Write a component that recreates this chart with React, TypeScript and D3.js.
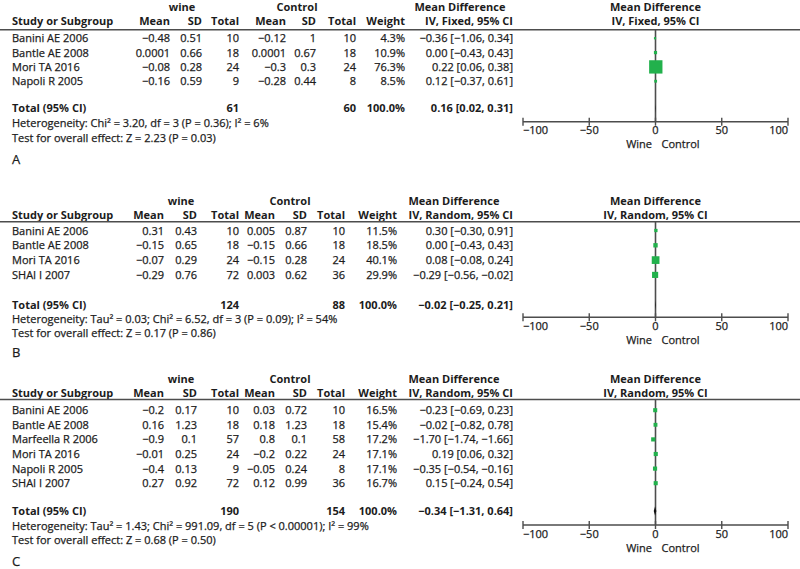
import React from "react";
import * as d3 from "d3";

// ---------- DATA ----------
const panelLetters = ["A", "B", "C"];
const methodLabels = ["IV, Fixed, 95% CI", "IV, Random, 95% CI", "IV, Random, 95% CI"];

const studiesA = ["Banini AE 2006", "Bantle AE 2008", "Mori TA 2016", "Napoli R 2005"];
const wineMeanA = [-0.48, 0.0001, -0.08, -0.16];
const wineSdA = [0.51, 0.66, 0.28, 0.59];
const wineNA = [10, 18, 24, 9];
const ctrlMeanA = [-0.12, 0.0001, -0.3, -0.28];
const ctrlSdA = [1, 0.67, 0.3, 0.44];
const ctrlNA = [10, 18, 24, 8];
const weightA = [4.3, 10.9, 76.3, 8.5];
const mdA = [-0.36, 0.0, 0.22, 0.12];
const loA = [-1.06, -0.43, 0.06, -0.37];
const hiA = [0.34, 0.43, 0.38, 0.61];

const studiesB = ["Banini AE 2006", "Bantle AE 2008", "Mori TA 2016", "SHAI I 2007"];
const wineMeanB = [0.31, -0.15, -0.07, -0.29];
const wineSdB = [0.43, 0.65, 0.29, 0.76];
const wineNB = [10, 18, 24, 72];
const ctrlMeanB = [0.005, -0.15, -0.15, 0.003];
const ctrlSdB = [0.87, 0.66, 0.28, 0.62];
const ctrlNB = [10, 18, 24, 36];
const weightB = [11.5, 18.5, 40.1, 29.9];
const mdB = [0.3, 0.0, 0.08, -0.29];
const loB = [-0.3, -0.43, -0.08, -0.56];
const hiB = [0.91, 0.43, 0.24, -0.02];

const studiesC = ["Banini AE 2006", "Bantle AE 2008", "Marfeella R 2006", "Mori TA 2016", "Napoli R 2005", "SHAI I 2007"];
const wineMeanC = [-0.2, 0.16, -0.9, -0.01, -0.4, 0.27];
const wineSdC = [0.17, 1.23, 0.1, 0.25, 0.13, 0.92];
const wineNC = [10, 18, 57, 24, 9, 72];
const ctrlMeanC = [0.03, 0.18, 0.8, -0.2, -0.05, 0.12];
const ctrlSdC = [0.72, 1.23, 0.1, 0.22, 0.24, 0.99];
const ctrlNC = [10, 18, 58, 24, 8, 36];
const weightC = [16.5, 15.4, 17.2, 17.1, 17.1, 16.7];
const mdC = [-0.23, -0.02, -1.7, 0.19, -0.35, 0.15];
const loC = [-0.69, -0.82, -1.74, 0.06, -0.54, -0.24];
const hiC = [0.23, 0.78, -1.66, 0.32, -0.16, 0.54];

const totalWine = [61, 124, 190];
const totalCtrl = [60, 88, 154];
const totalWeight = [100.0, 100.0, 100.0];
const totalMd = [0.16, -0.02, -0.34];
const totalLo = [0.02, -0.25, -1.31];
const totalHi = [0.31, 0.21, 0.64];

const heterogeneity = [
  "Heterogeneity: Chi² = 3.20, df = 3 (P = 0.36); I² = 6%",
  "Heterogeneity: Tau² = 0.03; Chi² = 6.52, df = 3 (P = 0.09); I² = 54%",
  "Heterogeneity: Tau² = 1.43; Chi² = 991.09, df = 5 (P < 0.00001); I² = 99%",
];
const overallTest = [
  "Test for overall effect: Z = 2.23 (P = 0.03)",
  "Test for overall effect: Z = 0.17 (P = 0.86)",
  "Test for overall effect: Z = 0.68 (P = 0.50)",
];

const axisTicks = [-100, -50, 0, 50, 100];
const favoursLeft = "Wine";
const favoursRight = "Control";

// ---------- LAYOUT ----------
const panels = [
  {
    studies: studiesA, wm: wineMeanA, ws: wineSdA, wn: wineNA, cm: ctrlMeanA, cs: ctrlSdA, cn: ctrlNA,
    w: weightA, md: mdA, lo: loA, hi: hiA,
    y: { grp: 10.7, hdr: 25.3, rule: 29.8, row0: 38.3, step: 14.3, total: 108.3, het: 123, test: 137.5, axis: 121.7, letter: 164 },
    c: { wMean: 170, wSd: 202, wN: 239, cMean: 286, cSd: 316, cN: 356, weight: 405, ci: 513, wine: 182, ctrl: 297, mdHdr: 460 },
  },
  {
    studies: studiesB, wm: wineMeanB, ws: wineSdB, wn: wineNB, cm: ctrlMeanB, cs: ctrlSdB, cn: ctrlNB,
    w: weightB, md: mdB, lo: loB, hi: hiB,
    y: { grp: 205, hdr: 218.7, rule: 221.7, row0: 230.5, step: 14.8, total: 305, het: 319.3, test: 333, axis: 317.3, letter: 357 },
    c: { wMean: 164, wSd: 197, wN: 239, cMean: 275, cSd: 307, cN: 345, weight: 397, ci: 513, wine: 181, ctrl: 290, mdHdr: 454 },
  },
  {
    studies: studiesC, wm: wineMeanC, ws: wineSdC, wn: wineNC, cm: ctrlMeanC, cs: ctrlSdC, cn: ctrlNC,
    w: weightC, md: mdC, lo: loC, hi: hiC,
    y: { grp: 383.3, hdr: 397, rule: 399.5, row0: 410.2, step: 14.6, total: 511, het: 525.7, test: 540, axis: 525, letter: 566 },
    c: { wMean: 164, wSd: 197, wN: 239, cMean: 275, cSd: 307, cN: 345, weight: 397, ci: 513, wine: 181, ctrl: 290, mdHdr: 454 },
  },
];

const FONT = "'Open Sans', 'DejaVu Sans', sans-serif";
const TEXT = "#1c1c1c";
const LINE = "#4d4d4d";
const GREEN = "#22b14c";

const minus = (s: string) => s.replace(/-/g, "−");
const fmt = (v: number) => minus(String(v));
const f2 = (v: number) => minus(v.toFixed(2));
const ciText = (m: number, l: number, h: number) => `${f2(m)} [${f2(l)}, ${f2(h)}]`;

const x = d3.scaleLinear().domain([-100, 100]).range([523, 788]);

function Panel({ p, i }: { p: any; i: number }) {
  const { y, c } = p;
  const base = (center: number) => center + 4;
  const bold = { fontWeight: 700, strokeWidth: 0 };
  const size = (w: number) => 1.5 + 0.155 * w;
  return (
    <g>
      {/* group headers */}
      <text x={c.wine} y={y.grp} textAnchor="middle" style={bold}>wine</text>
      <text x={c.ctrl} y={y.grp} textAnchor="middle" style={bold}>Control</text>
      <text x={c.mdHdr} y={y.grp} textAnchor="middle" style={bold}>Mean Difference</text>
      <text x={x(0)} y={y.grp} textAnchor="middle" style={bold}>Mean Difference</text>
      {/* column headers */}
      <text x={12} y={y.hdr} style={bold}>Study or Subgroup</text>
      <text x={c.wMean} y={y.hdr} textAnchor="end" style={bold}>Mean</text>
      <text x={c.wSd} y={y.hdr} textAnchor="end" style={bold}>SD</text>
      <text x={c.wN} y={y.hdr} textAnchor="end" style={bold}>Total</text>
      <text x={c.cMean} y={y.hdr} textAnchor="end" style={bold}>Mean</text>
      <text x={c.cSd} y={y.hdr} textAnchor="end" style={bold}>SD</text>
      <text x={c.cN} y={y.hdr} textAnchor="end" style={bold}>Total</text>
      <text x={c.weight} y={y.hdr} textAnchor="end" style={bold}>Weight</text>
      <text x={c.ci} y={y.hdr} textAnchor="end" style={bold}>{methodLabels[i]}</text>
      <text x={x(0)} y={y.hdr} textAnchor="middle" style={bold}>{methodLabels[i]}</text>
      <line x1={0} x2={800} y1={y.rule} y2={y.rule} stroke={LINE} strokeWidth={1.6} />
      {/* zero line */}
      <line x1={x(0)} x2={x(0)} y1={y.rule} y2={y.axis} stroke={LINE} strokeWidth={1.6} />
      {/* study rows */}
      {p.studies.map((s: string, k: number) => {
        const cy = y.row0 + k * y.step;
        const by = base(cy);
        const sz = size(p.w[k]);
        return (
          <g key={s}>
            <text x={12} y={by}>{s}</text>
            <text x={c.wMean} y={by} textAnchor="end">{fmt(p.wm[k])}</text>
            <text x={c.wSd} y={by} textAnchor="end">{fmt(p.ws[k])}</text>
            <text x={c.wN} y={by} textAnchor="end">{p.wn[k]}</text>
            <text x={c.cMean} y={by} textAnchor="end">{fmt(p.cm[k])}</text>
            <text x={c.cSd} y={by} textAnchor="end">{fmt(p.cs[k])}</text>
            <text x={c.cN} y={by} textAnchor="end">{p.cn[k]}</text>
            <text x={c.weight} y={by} textAnchor="end">{p.w[k].toFixed(1)}%</text>
            <text x={c.ci} y={by} textAnchor="end">{ciText(p.md[k], p.lo[k], p.hi[k])}</text>
            <line x1={x(p.lo[k])} x2={x(p.hi[k])} y1={cy} y2={cy} stroke="#000" strokeWidth={1} />
            <rect x={x(p.md[k]) - sz / 2} y={cy - sz / 2} width={sz} height={sz} fill={GREEN} stroke="none" />
          </g>
        );
      })}
      {/* total row */}
      <text x={12} y={base(y.total)} style={bold}>Total (95% CI)</text>
      <text x={c.wN} y={base(y.total)} textAnchor="end" style={bold}>{totalWine[i]}</text>
      <text x={c.cN} y={base(y.total)} textAnchor="end" style={bold}>{totalCtrl[i]}</text>
      <text x={c.weight} y={base(y.total)} textAnchor="end" style={bold}>{totalWeight[i].toFixed(1)}%</text>
      <text x={c.ci} y={base(y.total)} textAnchor="end" style={bold}>{ciText(totalMd[i], totalLo[i], totalHi[i])}</text>
      <polygon
        points={[
          [x(totalLo[i]), y.total],
          [x(totalMd[i]), y.total - 4.5],
          [x(totalHi[i]), y.total],
          [x(totalMd[i]), y.total + 4.5],
        ].map((q) => q.join(",")).join(" ")}
        fill="#111"
        stroke="none"
      />
      <text x={12} y={base(y.het)}>{heterogeneity[i]}</text>
      <text x={12} y={base(y.test)}>{overallTest[i]}</text>
      {/* axis */}
      <line x1={x(-100)} x2={x(100)} y1={y.axis} y2={y.axis} stroke={LINE} strokeWidth={1.6} />
      {axisTicks.map((t, k) => (
        <g key={t}>
          <line x1={x(t)} x2={x(t)} y1={y.axis - 4} y2={y.axis + 4} stroke={LINE} strokeWidth={1.4} />
          <text
            x={x(t)}
            y={y.axis + 12.5}
            textAnchor={k === 0 ? "start" : k === axisTicks.length - 1 ? "end" : "middle"}
          >
            {fmt(t)}
          </text>
        </g>
      ))}
      <text x={x(0) - 3.5} y={y.axis + 26.5} textAnchor="end">{favoursLeft}</text>
      <text x={x(0) + 6} y={y.axis + 26.5}>{favoursRight}</text>
      <text x={12} y={y.letter} style={{ fontSize: 13 }}>{panelLetters[i]}</text>
    </g>
  );
}

export default function App() {
  return (
    <div style={{ position: "absolute", left: 0, top: 0 }}>
      <svg
        width={800}
        height={569}
        style={{ display: "block", background: "#fff" }}
        fontFamily={FONT}
        fontSize={11}
        fill={TEXT}
        stroke={TEXT}
        strokeWidth={0.25}
      >
        <rect width={800} height={569} fill="#fff" stroke="none" />
        {panels.map((p, i) => (
          <Panel key={i} p={p} i={i} />
        ))}
      </svg>
    </div>
  );
}
